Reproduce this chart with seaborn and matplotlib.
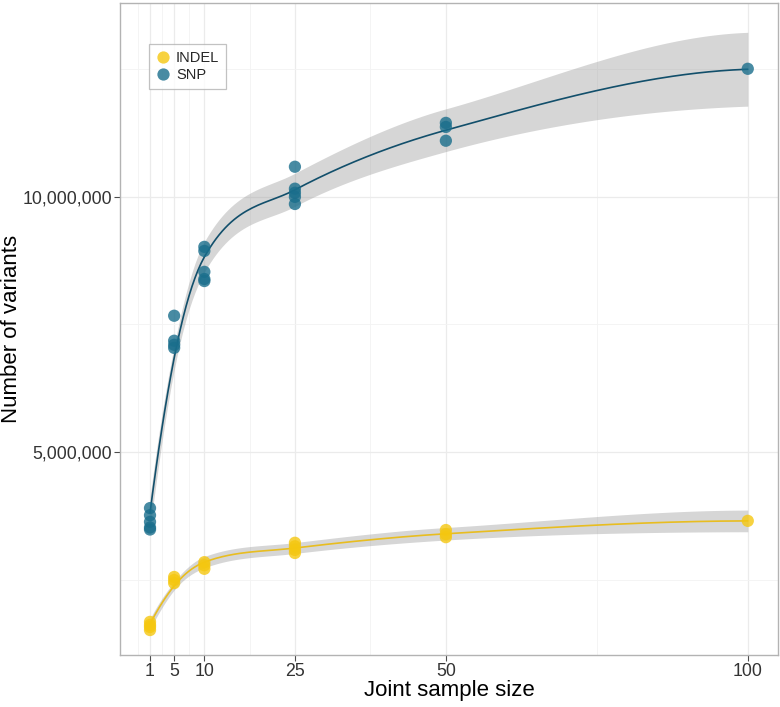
import numpy as np
import pandas as pd
import matplotlib
matplotlib.use("Agg")
import matplotlib.pyplot as plt
import seaborn as sns
from matplotlib.ticker import FuncFormatter, FixedLocator

# values (variants per joint call)
snp_x = [1, 1, 1, 1, 1, 5, 5, 5, 5, 10, 10, 10, 10, 10, 25, 25, 25, 25, 25, 50, 50, 50, 100]
snp_y = [3.90e6, 3.76e6, 3.63e6, 3.52e6, 3.48e6,
         7.67e6, 7.18e6, 7.10e6, 7.04e6,
         9.02e6, 8.94e6, 8.53e6, 8.39e6, 8.35e6,
         10.59e6, 10.16e6, 10.08e6, 10.00e6, 9.86e6,
         11.45e6, 11.37e6, 11.10e6,
         12.51e6]
indel_x = [1, 1, 1, 1, 5, 5, 5, 10, 10, 10, 25, 25, 25, 25, 50, 50, 50, 100]
indel_y = [1.67e6, 1.61e6, 1.57e6, 1.51e6,
           2.55e6, 2.49e6, 2.43e6,
           2.84e6, 2.78e6, 2.71e6,
           3.22e6, 3.15e6, 3.08e6, 3.02e6,
           3.47e6, 3.39e6, 3.33e6,
           3.65e6]

x_ticks = [1, 5, 10, 25, 50, 100]
x_minor = [-1, 3, 7.5, 17.5, 37.5, 75]
y_ticks = [5_000_000, 10_000_000]
y_minor = [2_500_000, 7_500_000, 12_500_000]

colors = {"INDEL": "#f5c710", "SNP": "#1a6e8c"}
line_colors = {"INDEL": "#e8bd20", "SNP": "#124f6b"}


def local_rows(x, x0, q, boost=1.05):
    """
        Operator rows (value and slope) of a local quadratic fit at x0
    """
    n = len(x)
    d = np.abs(x - x0)
    h = np.sort(d)[q - 1] * boost
    u = np.clip(d / h, 0, 1)
    w = (1 - u ** 3) ** 3
    X = np.column_stack([np.ones(n), x - x0, (x - x0) ** 2])
    W = np.diag(w)
    B = np.linalg.pinv(X.T @ W @ X) @ X.T @ W
    return B[0], B[1]


def pchip_slopes(xv, yv):
    hs = np.diff(xv)
    sec = np.diff(yv) / hs
    m = np.zeros(len(xv))
    for k in range(1, len(xv) - 1):
        if sec[k - 1] * sec[k] > 0:
            w1 = 2 * hs[k] + hs[k - 1]
            w2 = hs[k] + 2 * hs[k - 1]
            m[k] = (w1 + w2) / (w1 / sec[k - 1] + w2 / sec[k])
    m[0], m[-1] = sec[0], sec[-1]
    return m


def hermite(xv, yv, mv, grid):
    out = []
    for g in grid:
        i = max(min(np.searchsorted(xv, g, side="right") - 1, len(xv) - 2), 0)
        hh = xv[i + 1] - xv[i]
        t = (g - xv[i]) / hh
        out.append((2 * t ** 3 - 3 * t ** 2 + 1) * yv[i] + (t ** 3 - 2 * t ** 2 + t) * hh * mv[i]
                   + (-2 * t ** 3 + 3 * t ** 2) * yv[i + 1] + (t ** 3 - t ** 2) * hh * mv[i + 1])
    return np.array(out)


def loess_fit(x, y, grid, span=0.75):
    """
        Loess at the distinct sizes, joined by a smooth hermite curve, plus band
    """
    x = np.asarray(x, float)
    y = np.asarray(y, float)
    n = len(x)
    q = int(np.floor(n * span))
    verts = np.unique(x)
    rows = [local_rows(x, v, q) for v in verts]
    vals = np.array([r[0] @ y for r in rows])
    slopes = np.array([r[1] @ y for r in rows])
    slopes[1:-1] = np.maximum(slopes[1:-1], pchip_slopes(verts, vals)[1:-1])

    L = np.array([rows[np.searchsorted(verts, v)][0] for v in x])
    res = y - L @ y
    M = np.eye(n) - L
    MM = M.T @ M
    one_delta = np.trace(MM)
    two_delta = np.trace(MM @ MM)
    sigma = np.sqrt(np.sum(res ** 2) / one_delta)
    df = one_delta ** 2 / two_delta
    z = 1.959964
    t = z + (z ** 3 + z) / (4 * df) + (5 * z ** 5 + 16 * z ** 3 + 3 * z) / (96 * df ** 2)

    se_v = np.array([sigma * np.sqrt(np.sum(r[0] ** 2)) for r in rows])
    fit = hermite(verts, vals, slopes, grid)
    se = hermite(verts, se_v, pchip_slopes(verts, se_v) * 0, grid)
    return fit, fit - t * se, fit + t * se


df = pd.concat([
    pd.DataFrame({"size": indel_x, "variants": indel_y, "type": "INDEL"}),
    pd.DataFrame({"size": snp_x, "variants": snp_y, "type": "SNP"}),
])

sns.set_theme(style="white")
plt.rcParams["font.family"] = ["Liberation Sans", "DejaVu Sans"]

fig = plt.figure(figsize=(7.8, 7.07), dpi=100)
ax = fig.add_axes([0.154, 0.0735, 0.843, 0.9223])

# smooth curves with confidence bands
for name in ["INDEL", "SNP"]:
    sub = df[df["type"] == name]
    grid = np.linspace(sub["size"].min(), sub["size"].max(), 200)
    fit, lo, hi = loess_fit(sub["size"], sub["variants"], grid)
    ax.fill_between(grid, lo, hi, color="#999999", alpha=0.4, linewidth=0, zorder=2)
    ax.plot(grid, fit, color=line_colors[name], linewidth=1.2, zorder=3)

sns.scatterplot(data=df, x="size", y="variants", hue="type", palette=colors,
                s=78, alpha=0.8, edgecolor="none", ax=ax, zorder=4)

ax.set_xlim(-3.95, 104.95)
ax.set_ylim(1.02e6, 13.8e6)

ax.xaxis.set_major_locator(FixedLocator(x_ticks))
ax.xaxis.set_minor_locator(FixedLocator(x_minor))
ax.yaxis.set_major_locator(FixedLocator(y_ticks))
ax.yaxis.set_minor_locator(FixedLocator(y_minor))
ax.yaxis.set_major_formatter(FuncFormatter(lambda v, p: f"{int(v):,}"))

ax.grid(True, which="major", color="#ebebeb", linewidth=0.9, zorder=0)
ax.grid(True, which="minor", color="#f3f3f3", linewidth=0.6, zorder=0)
ax.set_axisbelow(True)

for s in ax.spines.values():
    s.set_color("#b3b3b3")
    s.set_linewidth(1.0)

ax.tick_params(axis="both", which="major", labelsize=12.8, colors="#4d4d4d",
               length=4, width=0.8, direction="out", bottom=True, left=True,
               labelcolor="#333333", pad=2)
ax.tick_params(axis="both", which="minor", length=0)

ax.set_xlabel("Joint sample size", fontsize=16, color="black")
ax.set_ylabel("Number of variants", fontsize=16, color="black")
ax.xaxis.set_label_coords(0.5, -0.038)
ax.yaxis.set_label_coords(-0.149, 0.5)

leg = ax.legend(loc="upper left", bbox_to_anchor=(0.044, 0.937), title=None,
                fontsize=10.5, frameon=True, fancybox=False, markerscale=1.0,
                handletextpad=0.4, borderpad=0.45, labelspacing=0.25,
                handlelength=1.0, borderaxespad=0)
leg.get_frame().set_edgecolor("#b3b3b3")
leg.get_frame().set_linewidth(0.9)

fig.savefig("out.png", dpi=100)
